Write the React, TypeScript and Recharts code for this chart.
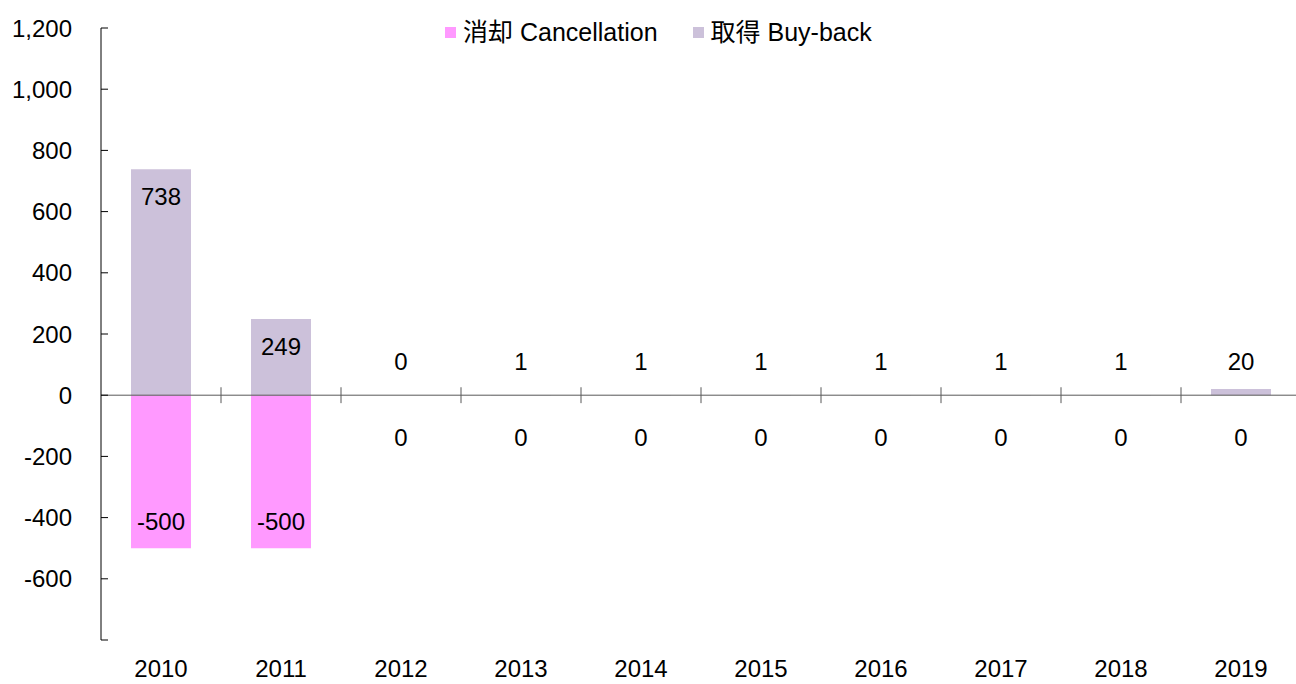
import React from 'react';
import { BarChart, Bar, XAxis, YAxis, ReferenceLine, LabelList } from 'recharts';

const years = ['2010', '2011', '2012', '2013', '2014', '2015', '2016', '2017', '2018', '2019'];
const cancellation = [-500, -500, 0, 0, 0, 0, 0, 0, 0, 0];
const buyBack = [738, 249, 0, 1, 1, 1, 1, 1, 1, 20];
const yTicks = [-800, -600, -400, -200, 0, 200, 400, 600, 800, 1000, 1200];

const PINK = '#FF99FF';
const LILAC = '#CCC1DA';
const FONT = '"Liberation Sans", Arial, "Noto Sans CJK JP", sans-serif';
const FS = 24;

const chartData = years.map((year, i) => ({ year, cancel: cancellation[i], buy: buyBack[i] }));

const YTick = (props: any) => {
  const { x, y, payload } = props;
  const v = payload.value as number;
  return (
    <g>
      <line x1={x + 29} x2={x + 36} y1={y} y2={y} stroke="#000" />
      <text x={x} y={y} textAnchor="end" dominantBaseline="central" fontSize={FS} fill="#000" fontFamily={FONT}>
        {v === -800 ? '' : v.toLocaleString('en-US')}
      </text>
    </g>
  );
};

const XTick = (props: any) => {
  const { x, y, payload } = props;
  return (
    <text x={x} y={y} textAnchor="middle" dominantBaseline="central" fontSize={FS} fill="#000" fontFamily={FONT}>
      {payload.value}
    </text>
  );
};

// labels live on transparent helper bars (minPointSize keeps zero values in the list)
const BuyLabel = (props: any) => {
  const { x, y, width, height, value } = props;
  const top = Math.min(y, y + height);
  const bottom = Math.max(y, y + height);
  const cy = value > 100 ? top + 27 : bottom - 34;
  return (
    <text x={x + width / 2} y={cy} textAnchor="middle" dominantBaseline="central" fontSize={FS} fill="#000" fontFamily={FONT}>
      {value}
    </text>
  );
};

const CancelLabel = (props: any) => {
  const { x, y, width, height, value } = props;
  const top = Math.min(y, y + height);
  const bottom = Math.max(y, y + height);
  const cy = value < -100 ? bottom - 27 : top + 43;
  return (
    <text x={x + width / 2} y={cy} textAnchor="middle" dominantBaseline="central" fontSize={FS} fill="#000" fontFamily={FONT}>
      {value}
    </text>
  );
};

const legendItems = [
  { label: '消却 Cancellation', color: PINK },
  { label: '取得 Buy-back', color: LILAC },
];

export default function App() {
  return (
    <div style={{ position: 'absolute', left: 0, top: 0, width: 1296, height: 684, overflow: 'hidden', background: '#fff', fontFamily: FONT }}>
      <BarChart
        width={1301}
        height={684}
        data={chartData}
        barSize={60}
        barGap={-60}
        margin={{ top: 28, right: 0, bottom: 0, left: 0 }}
      >
        <XAxis
          dataKey="year"
          height={44}
          axisLine={false}
          tickLine={false}
          tickSize={0}
          tickMargin={28}
          tick={<XTick />}
          interval={0}
        />
        <YAxis
          width={101}
          domain={[-800, 1200]}
          ticks={yTicks}
          interval={0}
          tickSize={0}
          tickMargin={29}
          tickLine={false}
          axisLine={{ stroke: '#000' }}
          tick={<YTick />}
        />
        <Bar dataKey="cancel" fill={PINK} isAnimationActive={false} />
        <Bar dataKey="buy" fill={LILAC} isAnimationActive={false} />
        <Bar dataKey="cancel" fill="none" minPointSize={1} legendType="none" isAnimationActive={false}>
          <LabelList dataKey="cancel" content={<CancelLabel />} />
        </Bar>
        <Bar dataKey="buy" fill="none" minPointSize={1} legendType="none" isAnimationActive={false}>
          <LabelList dataKey="buy" content={<BuyLabel />} />
        </Bar>
        <ReferenceLine y={0} stroke="#595959" />
        {years.slice(1).map((yr) => (
          <ReferenceLine
            key={yr}
            position="start"
            segment={[{ x: yr, y: -26 }, { x: yr, y: 26 }]}
            stroke="#595959"
          />
        ))}
      </BarChart>
      <div style={{ position: 'absolute', left: 445, top: 18, display: 'flex', alignItems: 'center', fontSize: 25, color: '#000', lineHeight: '28px' }}>
        {legendItems.map((item, i) => (
          <div key={item.label} style={{ display: 'flex', alignItems: 'center', marginRight: i === 0 ? 35 : 0 }}>
            <span style={{ display: 'inline-block', width: 11, height: 11, background: item.color, marginRight: 7 }} />
            <span>{item.label}</span>
          </div>
        ))}
      </div>
    </div>
  );
}
